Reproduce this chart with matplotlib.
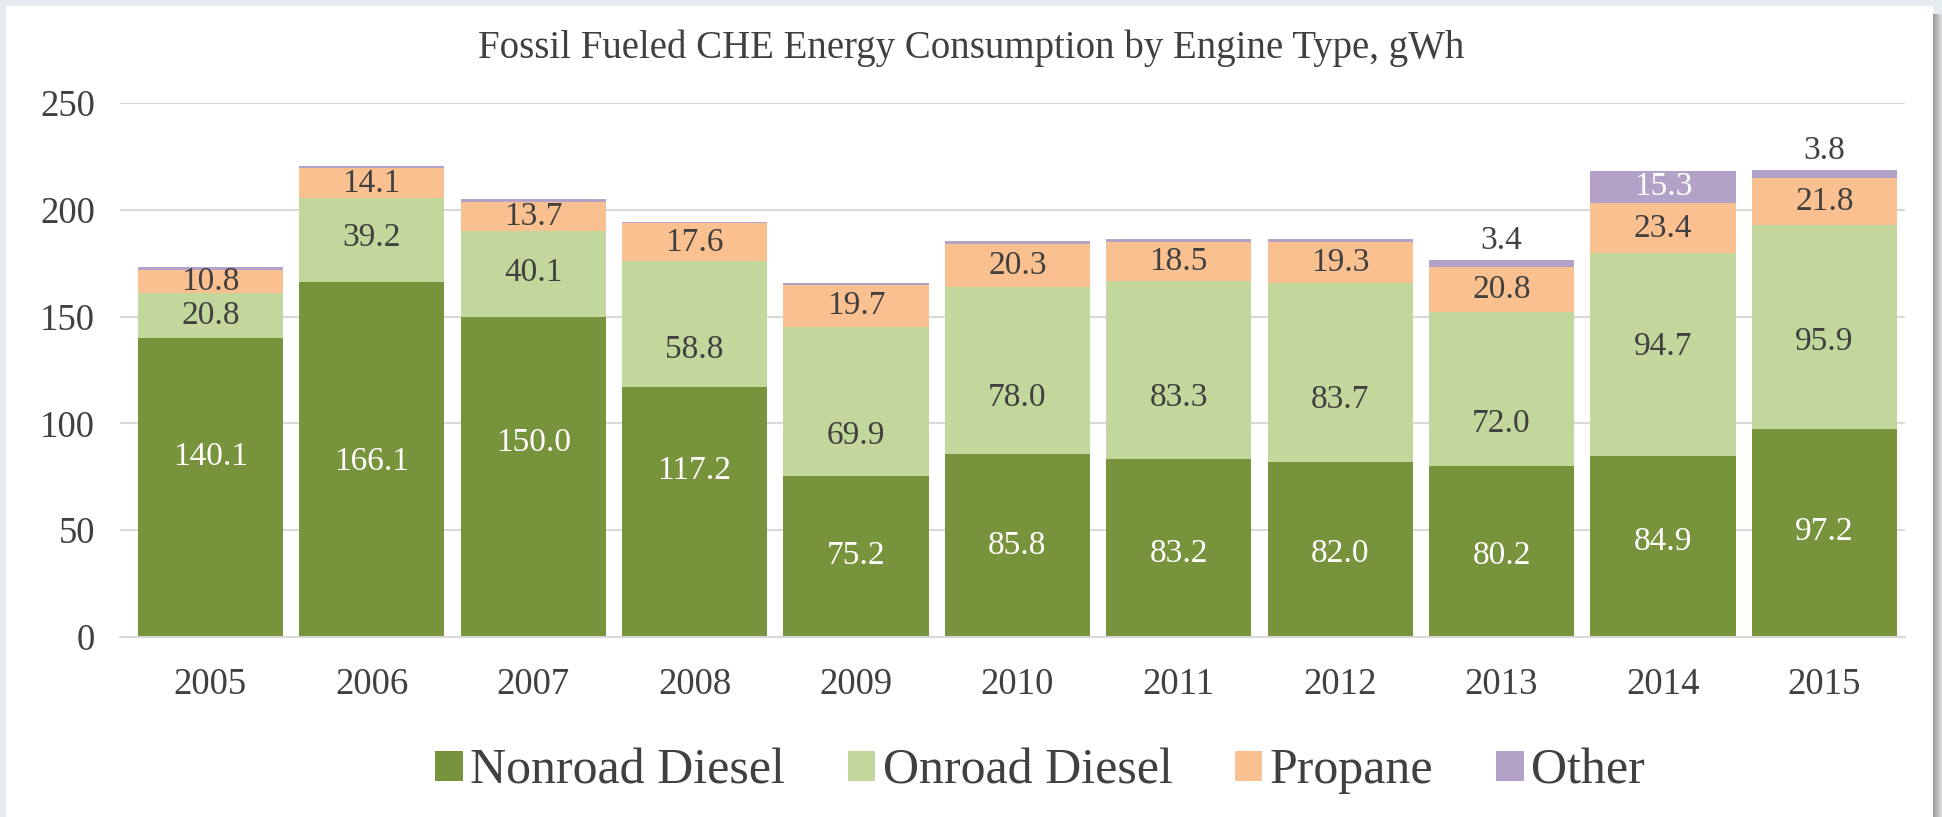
import numpy as np
import matplotlib.pyplot as plt
from matplotlib.patches import Rectangle

years = ['2005', '2006', '2007', '2008', '2009', '2010',
         '2011', '2012', '2013', '2014', '2015']
nonroad = [140.1, 166.1, 150.0, 117.2, 75.2, 85.8, 83.2, 82.0, 80.2, 84.9, 97.2]
onroad = [20.8, 39.2, 40.1, 58.8, 69.9, 78.0, 83.3, 83.7, 72.0, 94.7, 95.9]
propane = [10.8, 14.1, 13.7, 17.6, 19.7, 20.3, 18.5, 19.3, 20.8, 23.4, 21.8]
other = [1.5, 1.0, 1.2, 0.9, 0.9, 1.5, 1.5, 1.4, 3.4, 15.3, 3.8]
# which "other" values carry a label
other_labeled = [False] * 8 + [True, True, True]

# label heights (data units) as placed in the original chart
nonroad_label_y = [84.6, 82.2, 91.0, 77.6, 38.0, 42.7, 39.2, 39.2, 38.0, 44.4, 49.1]
onroad_label_y = [150.4, 187.0, 170.7, 134.7, 94.0, 112.0, 112.0, 111.0, 100.0, 135.8, 138.0]

c_nonroad = '#77933C'
c_onroad = '#C3D69B'
c_propane = '#FAC090'
c_other = '#B3A2C7'
txt = '#404040'

plt.rcParams['font.family'] = ['Liberation Serif', 'DejaVu Serif']

W, H = 1942, 817
fig = plt.figure(figsize=(W / 100, H / 100), dpi=100, facecolor='#E4ECEF')
# white panel with a grey shadow on the right
shadow = ['#9C9C9C', '#A4A4A4', '#ACACAC', '#B4B4B4', '#BCBCBC', '#C4C4C4',
          '#CCCCCC', '#D4D4D4', '#DCDCDC']
for k, c in enumerate(shadow):
    fig.patches.append(Rectangle(((1933 + k) / W, 0), 1 / W, 1 - 14 / H,
                                 transform=fig.transFigure, facecolor=c,
                                 edgecolor='none', zorder=-2))
fig.patches.append(Rectangle((6 / W, 0), (1933 - 6) / W, 1 - 6 / H,
                             transform=fig.transFigure, facecolor='white',
                             edgecolor='none', zorder=-1))

ax = fig.add_axes([120 / W, 1 - 637 / H, (1905 - 120) / W, (637 - 103) / H])
ax.set_zorder(1)
ax.set_facecolor('none')

x = np.arange(len(years))
w = 0.9
b1 = np.array(nonroad)
b2 = b1 + np.array(onroad)
b3 = b2 + np.array(propane)

ax.bar(x, nonroad, w, color=c_nonroad, label='Nonroad Diesel', zorder=2)
ax.bar(x, onroad, w, bottom=b1, color=c_onroad, label='Onroad Diesel', zorder=2)
ax.bar(x, propane, w, bottom=b2, color=c_propane, label='Propane', zorder=2)
ax.bar(x, other, w, bottom=b3, color=c_other, label='Other', zorder=2)

fs = 24
for i in range(len(years)):
    ax.text(x[i], nonroad_label_y[i], f'{nonroad[i]:.1f}', ha='center', va='center',
            color='white', fontsize=fs, zorder=3)
    ax.text(x[i], onroad_label_y[i], f'{onroad[i]:.1f}', ha='center', va='center',
            color=txt, fontsize=fs, zorder=3)
    ax.text(x[i], b2[i] + propane[i] / 2, f'{propane[i]:.1f}', ha='center', va='center',
            color=txt, fontsize=fs, zorder=3)
    if other_labeled[i]:
        if other[i] > 10:
            ax.text(x[i], b3[i] + other[i] / 2, f'{other[i]:.1f}', ha='center',
                    va='center', color='white', fontsize=fs, zorder=3)
        else:
            ax.text(x[i], b3[i] + other[i] + 9, f'{other[i]:.1f}', ha='center',
                    va='center', color=txt, fontsize=fs, zorder=3)

ax.set_xlim(-0.56, len(years) - 0.5)
ax.set_ylim(0, 250)
ax.set_yticks(np.arange(0, 251, 50))
ax.set_xticks(x)
ax.set_xticklabels(years)
ax.grid(axis='y', color='#D9D9D9', linewidth=1.5, zorder=0)
ax.set_axisbelow(True)
for s in ['top', 'right', 'left']:
    ax.spines[s].set_visible(False)
ax.spines['bottom'].set_color('#D9D9D9')
ax.spines['bottom'].set_linewidth(1.5)
ax.tick_params(axis='both', length=0, labelsize=26.5, colors=txt)
ax.tick_params(axis='y', pad=18)
ax.tick_params(axis='x', pad=22)

fig.text(971 / W, 1 - 48 / H, 'Fossil Fueled CHE Energy Consumption by Engine Type, gWh',
         ha='center', va='center', fontsize=28, color=txt)

fig.legend(loc='center', bbox_to_anchor=(1040 / W, 1 - 771 / H), ncol=4, frameon=False,
           fontsize=36, labelcolor=txt, handlelength=0.55, handleheight=0.55,
           handletextpad=0.15, columnspacing=1.25)

fig.savefig('out.png', dpi=100, facecolor=fig.get_facecolor())
